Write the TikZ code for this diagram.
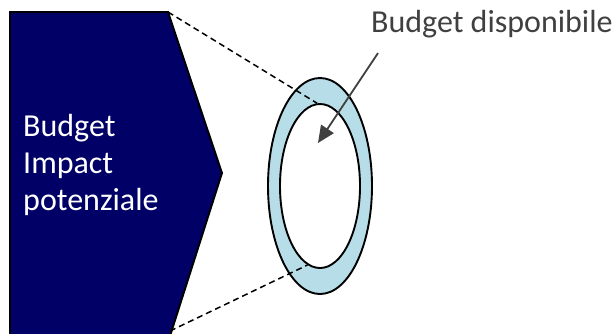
\documentclass[tikz,border=0pt]{standalone}
\usepackage{fontspec}
\setmainfont{Carlito}
\usetikzlibrary{shapes.geometric,arrows.meta}
\definecolor{navy}{HTML}{000066}
\definecolor{ringblue}{HTML}{B7DEE8}
\definecolor{darkgray}{HTML}{404040}
\tikzset{
  outline/.style={draw=black,line width=1.9pt},
  dashline/.style={draw=black,line width=1.5pt,dash pattern=on 6pt off 4pt},
  bigtext/.style={font=\fontsize{32}{37}\selectfont,inner sep=0pt},
}
\begin{document}
\begin{tikzpicture}[x=1pt,y=-1pt]
\useasboundingbox (0,0) rectangle (615,333);
\clip (0,0) rectangle (615,333);
\coordinate (tl) at (10,12);
\coordinate (tr) at (168,12);
\coordinate (tip) at (222,173);
\coordinate (br) at (170,336);
\coordinate (bl) at (10,336);
\coordinate (brc) at (170,331);
\fill[navy] (tl) -- (tr) -- (tip) -- (br) -- (bl) -- cycle;
\draw[outline] (bl) -- (tl) -- (tr) -- (tip) -- (br);
\node[bigtext,text=white,align=left,anchor=west] (label) at (23,165) {Budget\\Impact\\potenziale};
\node[ellipse,outline,fill=ringblue,minimum width=104pt,minimum height=216pt,inner sep=0pt] (outer) at (320,186) {};
\node[ellipse,outline,fill=white,minimum width=80pt,minimum height=164pt,inner sep=0pt] (inner) at (320,186) {};
\draw[dashline] (tr) -- (inner.92);
\draw[dashline] (brc) -- (inner.261);
\node[bigtext,text=darkgray,anchor=base west] (avail) at (371,32) {Budget disponibile};
\coordinate (arrowstart) at (378,53);
\coordinate (arrowend) at (318,143);
\draw[darkgray,line width=1.8pt,-{Triangle[length=17pt,width=15pt]}] (arrowstart) -- (arrowend);
\end{tikzpicture}
\end{document}
